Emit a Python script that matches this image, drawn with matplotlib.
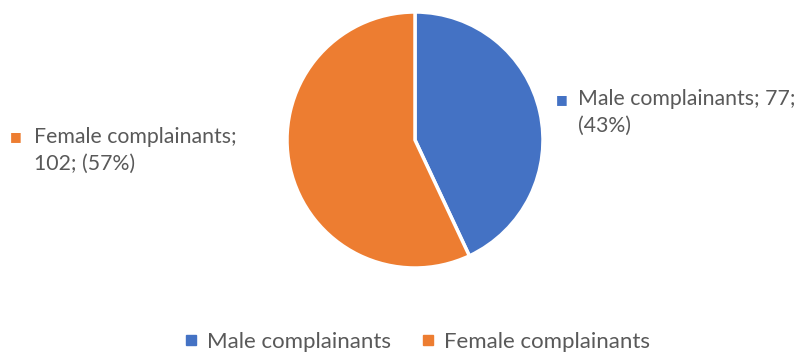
import matplotlib.pyplot as plt
from matplotlib.lines import Line2D

labels = ["Male complainants", "Female complainants"]
counts = [77, 102]
colors = ["#4472C4", "#ED7D31"]
text_color = "#595959"

plt.rcParams['font.family'] = ['Lato', 'DejaVu Sans']

fig = plt.figure(figsize=(8.04, 3.53), dpi=100)
W, H = 804, 353

# pie axes: centre (415, 140) px, radius 128 px
ax = fig.add_axes([287 / W, (H - 268) / H, 256 / W, 256 / H])
ax.pie(counts, colors=colors, startangle=90, counterclock=False,
       wedgeprops=dict(edgecolor="white", linewidth=2.5))
ax.set_xlim(-1.0, 1.0)
ax.set_ylim(-1.0, 1.0)
ax.set_aspect("equal")

total = sum(counts)
pcts = [round(100 * c / total) for c in counts]

# data labels
fig.text(556 / W, 1 - 99 / H, "■", color=colors[0], fontsize=9, va="center")
fig.text(578 / W, 1 - 89 / H,
         f"{labels[0]}; {counts[0]};\n({pcts[0]}%)",
         color=text_color, fontsize=15.3, va="top", ha="left", linespacing=1.45)
fig.text(10 / W, 1 - 136 / H, "■", color=colors[1], fontsize=9, va="center")
fig.text(34 / W, 1 - 127 / H,
         f"{labels[1]};\n{counts[1]}; ({pcts[1]}%)",
         color=text_color, fontsize=15.3, va="top", ha="left", linespacing=1.42)

handles = [Line2D([], [], marker="s", linestyle="none", markersize=7,
                  markerfacecolor=c, markeredgecolor=c) for c in colors]
fig.legend(handles, labels, loc="center", bbox_to_anchor=(416 / W, 1 - 342 / H),
           ncol=2, frameon=False, fontsize=16, labelcolor=text_color,
           handletextpad=0.3, columnspacing=1.3, handlelength=0.8,
           borderpad=0)

fig.savefig("out.png", dpi=100)
